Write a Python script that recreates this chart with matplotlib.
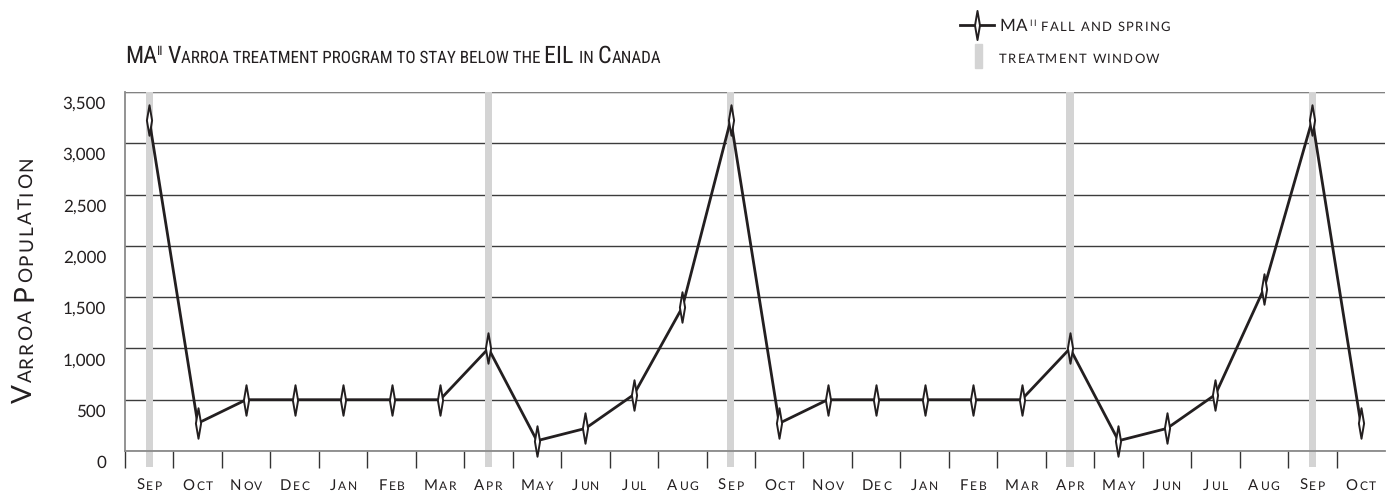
import matplotlib
matplotlib.use('Agg')
import matplotlib.pyplot as plt
from matplotlib import font_manager as fm
from matplotlib.font_manager import FontProperties
from matplotlib.ft2font import LOAD_NO_HINTING, Kerning
from matplotlib.transforms import offset_copy
from matplotlib.lines import Line2D
from matplotlib.patches import Rectangle
from matplotlib.path import Path

plt.rcParams['text.hinting'] = 'no_hinting'
plt.rcParams['text.hinting_factor'] = 1

# --- data ---
months = ['Sep', 'Oct', 'Nov', 'Dec', 'Jan', 'Feb', 'Mar', 'Apr', 'May', 'Jun', 'Jul', 'Aug',
          'Sep', 'Oct', 'Nov', 'Dec', 'Jan', 'Feb', 'Mar', 'Apr', 'May', 'Jun', 'Jul', 'Aug',
          'Sep', 'Oct']
population = [3230, 270, 500, 500, 500, 500, 500, 1000, 100, 220, 550, 1400,
              3230, 270, 500, 500, 500, 500, 500, 1000, 100, 220, 550, 1580,
              3230, 270]
treatment_months = [0, 7, 12, 19, 24]   # index into months
y_ticks = [0, 500, 1000, 1500, 2000, 2500, 3000, 3500]

# --- style ---
W, H, DPI = 1389, 495, 100
INK = '#231f20'
GRID = '#3c3c3c'
FRAME = '#8a8a8a'
BAR_GREY = '#d4d4d4'
names = {f.name for f in fm.fontManager.ttflist}
LABEL_FONT = 'Lato' if 'Lato' in names else 'DejaVu Sans'
TITLE_FONT = next((f for f in ['Roboto Condensed', 'Liberation Sans Narrow', 'Open Sans Condensed']
                   if f in names), LABEL_FONT)

fig = plt.figure(figsize=(W / DPI, H / DPI), dpi=DPI)
ax = fig.add_axes([125 / W, 1 - 451 / H, 1260 / W, 359 / H])

# thin diamond marker
diamond = Path([(0, 1), (0.17, 0), (0, -1), (-0.17, 0), (0, 1)],
               [Path.MOVETO, Path.LINETO, Path.LINETO, Path.LINETO, Path.CLOSEPOLY])


def sc_runs(s, big, small):
    """split text into fake small-caps runs: (text, size, rise)"""
    runs = []
    for ch in s:
        if ch == ' ':
            size = runs[-1][1] if runs else small
            txt = ' '
        elif ch.islower():
            size, txt = small, ch.upper()
        else:
            size, txt = big, ch
        if runs and runs[-1][1] == size:
            runs[-1] = (runs[-1][0] + txt, size, 0)
        else:
            runs.append((txt, size, 0))
    return runs


def text_w(t, size, family):
    # sum of glyph advances in pixels
    font = fm.get_font(fm.findfont(FontProperties(family=family)))
    font.set_size(size, DPI)
    return sum(font.load_char(ord(ch), flags=LOAD_NO_HINTING).linearHoriAdvance / 65536 for ch in t)


def draw_runs(runs, x, y, transform, family, ha='left', rotation=0, color=INK, track=0):
    if track:
        # letter-spaced: place every character on its own
        runs = [(ch, s, r) for t, s, r in runs for ch in t]
    widths = [text_w(t, s, family) + track for t, s, _ in runs]
    total = sum(widths) - track
    pos = {'left': 0, 'center': -total / 2, 'right': -total}[ha]
    c, s_ = (1, 0) if rotation == 0 else (0, 1)
    for (t, size, rise), w in zip(runs, widths):
        tr = offset_copy(transform, fig=fig, x=pos * c - rise * s_, y=pos * s_ + rise * c, units='dots')
        fig.text(x, y, t, transform=tr, rotation=rotation, rotation_mode='anchor',
                 ha='left', va='baseline', family=family, size=size, color=color)
        pos += w


x = list(range(len(months)))

# treatment windows
ax.bar(treatment_months, [3500 + 160] * len(treatment_months), bottom=-160, width=0.15,
       color=BAR_GREY, zorder=1.5, clip_on=False)

ax.plot(x, population, color=INK, lw=2, zorder=3, clip_on=False,
        marker=diamond, markersize=22, markerfacecolor='white',
        markeredgecolor=INK, markeredgewidth=1.4)

ax.set_xlim(-0.5, len(months) - 0.5)
ax.set_ylim(0, 3500)
ax.set_yticks(y_ticks)
ax.set_yticklabels([])
ax.tick_params(axis='y', length=0)
for v in y_ticks:
    ax.text(0, v, f'{v:,}', ha='right', va='center', family=LABEL_FONT, size=12, color=INK,
            transform=offset_copy(ax.get_yaxis_transform(), fig=fig, x=-19, y=-12, units='dots'))
ax.set_xticks([i - 0.5 for i in x])
ax.set_xticklabels([])
ax.tick_params(axis='x', length=12, width=1, color='#333333', direction='out')
ax.grid(axis='y', color=GRID, lw=1, zorder=0.5)
ax.set_axisbelow(True)
for sp in ['right', 'top']:
    ax.spines[sp].set_visible(False)
for sp in ['left', 'bottom']:
    ax.spines[sp].set_color(FRAME)
    ax.spines[sp].set_linewidth(1.3)
ax.axhline(3500, color=FRAME, lw=1.3, zorder=0.6)

# month labels in small caps
for i, m in enumerate(months):
    draw_runs(sc_runs(m, 11, 8.5), i, 0, offset_copy(ax.get_xaxis_transform(), fig=fig, y=-39, units='dots'),
              LABEL_FONT, ha='center', track=1.8)

# y label
draw_runs(sc_runs('Varroa Population', 20, 13.5), 32 / W, 1 - 280 / H, fig.transFigure,
          LABEL_FONT, ha='center', rotation=90, track=2)

# title
title_runs = sc_runs('MA', 17, 12.5) + [('II', 9, 8)] + \
    sc_runs(' Varroa treatment program to stay below the EIL in Canada', 17, 12.5)
draw_runs(title_runs, 125 / W, 1 - 63 / H, fig.transFigure, TITLE_FONT)

# legend
fig.add_artist(Line2D([960 / W, 994 / W], [1 - 25 / H] * 2, color=INK, lw=2))
fig.add_artist(Line2D([977 / W], [1 - 25 / H], marker=diamond, markersize=21,
                      markerfacecolor='white', markeredgecolor=INK, markeredgewidth=1.4))
fig.add_artist(Rectangle((975 / W, 1 - 68 / H), 7 / W, 24 / H, color=BAR_GREY,
                         transform=fig.transFigure))
legend_1 = sc_runs('MA', 12, 9) + [('II', 6.5, 5.5)] + sc_runs(' fall and spring', 12, 9)
draw_runs(legend_1, 999 / W, 1 - 31 / H, fig.transFigure, LABEL_FONT, track=1.3)
draw_runs(sc_runs('treatment window', 12, 9), 999 / W, 1 - 63 / H, fig.transFigure,
          LABEL_FONT, track=1.3)

fig.savefig('out.png', dpi=DPI)
